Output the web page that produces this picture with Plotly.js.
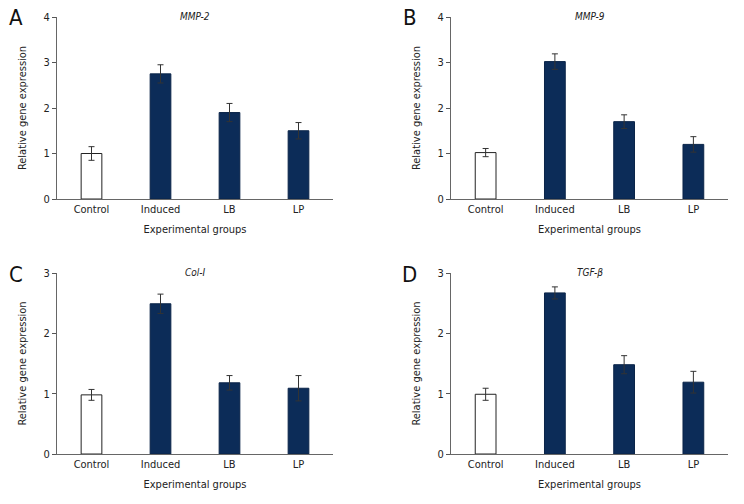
<!DOCTYPE html>
<html>
<head>
<meta charset="utf-8">
<script src="https://cdn.plot.ly/plotly-3.0.1.min.js"></script>
<style>
  body { margin: 0; background: white; }
  #plotDiv { width: 744px; height: 504px; }
</style>
</head>
<body>
<div id="plotDiv"></div>
<script>
var groups = ['Control', 'Induced', 'LB', 'LP'];

var mmp2 = [1.0, 2.75, 1.9, 1.5];
var mmp2Err = [0.15, 0.2, 0.2, 0.18];

var mmp9 = [1.02, 3.02, 1.7, 1.2];
var mmp9Err = [0.09, 0.17, 0.15, 0.17];

var col1 = [0.98, 2.49, 1.18, 1.09];
var col1Err = [0.09, 0.16, 0.12, 0.21];

var tgfb = [0.99, 2.67, 1.48, 1.19];
var tgfbErr = [0.1, 0.1, 0.15, 0.18];

var panels = [
    { letter: 'A', name: 'MMP-2', vals: mmp2, err: mmp2Err, ymax: 4 },
    { letter: 'B', name: 'MMP-9', vals: mmp9, err: mmp9Err, ymax: 4 },
    { letter: 'C', name: 'Col-I', vals: col1, err: col1Err, ymax: 3 },
    { letter: 'D', name: 'TGF-β', vals: tgfb, err: tgfbErr, ymax: 3 }
];

var navy = '#0c2c58';
var fnt = '"DejaVu Sans Condensed", "Liberation Sans", sans-serif';

// pixel boxes of each plot area (left, right, top, bottom)
var W = 744, H = 504;
var boxes = [
    [57, 333, 17, 199],
    [451, 728, 17, 199],
    [57, 333, 273, 454],
    [451, 728, 273, 454]
];

var data = [];
var layout = {
    width: W,
    height: H,
    margin: { l: 0, r: 0, t: 0, b: 0 },
    paper_bgcolor: 'white',
    plot_bgcolor: 'white',
    showlegend: false,
    font: { family: fnt, size: 11, color: '#222' },
    annotations: []
};

panels.forEach(function (p, i) {
    var n = i === 0 ? '' : String(i + 1);
    var b = boxes[i];
    data.push({
        type: 'bar',
        x: groups,
        y: p.vals,
        xaxis: 'x' + n,
        yaxis: 'y' + n,
        width: 0.3,
        marker: {
            color: groups.map(function (g, k) { return k === 0 ? 'white' : navy; }),
            line: { color: groups.map(function (g, k) { return k === 0 ? '#222' : '#0a2448'; }), width: 1 }
        },
        error_y: { type: 'data', array: p.err, visible: true, color: '#333', thickness: 1, width: 3 }
    });

    layout['xaxis' + n] = {
        domain: [b[0] / W, b[1] / W],
        anchor: 'y' + n,
        range: [-0.5, 3.5],
        showline: true,
        linecolor: '#666',
        linewidth: 1,
        ticks: '',
        showgrid: false,
        zeroline: false,
        tickfont: { family: fnt, size: 11, color: '#222' },
        title: { text: 'Experimental groups', font: { family: fnt, size: 11, color: '#222' }, standoff: 10 }
    };
    layout['yaxis' + n] = {
        domain: [1 - b[3] / H, 1 - b[2] / H],
        anchor: 'x' + n,
        range: [0, p.ymax],
        dtick: 1,
        showline: true,
        linecolor: '#666',
        linewidth: 1,
        ticks: 'outside',
        ticklen: 4,
        tickcolor: '#555',
        showgrid: false,
        zeroline: false,
        tickfont: { family: fnt, size: 11, color: '#222' },
        title: { text: 'Relative gene expression', font: { family: fnt, size: 11, color: '#222' }, standoff: 14 }
    };

    layout.annotations.push({
        text: p.letter,
        xref: 'paper', yref: 'paper',
        x: (b[0] - 41) / W, y: 1 - (b[2] + 1) / H,
        xanchor: 'center', yanchor: 'middle',
        showarrow: false,
        font: { family: fnt, size: 22, color: '#111' }
    });
    layout.annotations.push({
        text: '<i>' + p.name + '</i>',
        xref: 'x' + n + ' domain', yref: 'paper',
        x: 0.5, y: 1 - (b[2] - 1) / H,
        xanchor: 'center', yanchor: 'middle',
        showarrow: false,
        font: { family: fnt, size: 10, color: '#222' }
    });
});

Plotly.newPlot('plotDiv', data, layout, { displayModeBar: false, staticPlot: true });
</script>
</body>
</html>
